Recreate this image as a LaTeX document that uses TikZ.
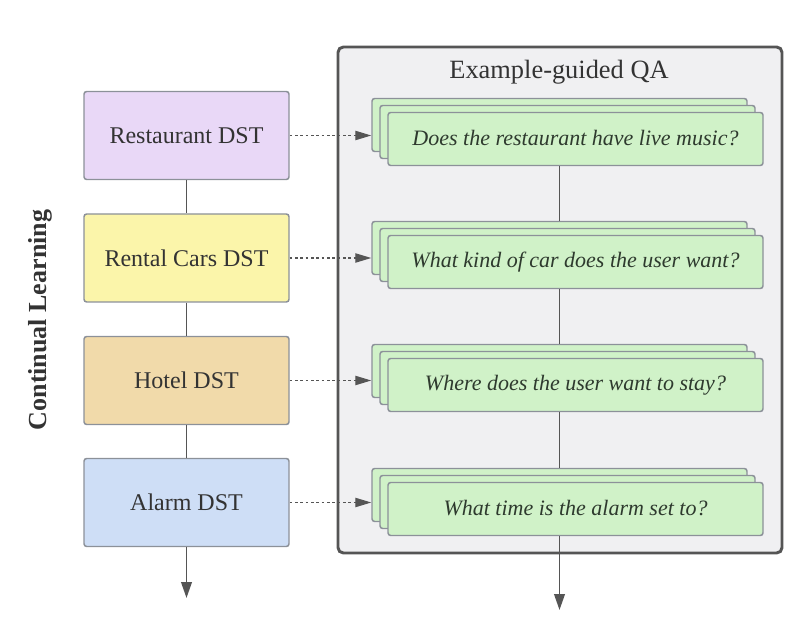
\documentclass[tikz,border=0pt]{standalone}
\usepackage{fontspec}
\setmainfont{Liberation Serif}
\usetikzlibrary{arrows.meta,positioning}
\definecolor{cpurple}{HTML}{E9D8F7}
\definecolor{cyellow}{HTML}{FBF5AA}
\definecolor{ctan}{HTML}{F1DAAA}
\definecolor{cblue}{HTML}{CEDEF6}
\definecolor{cgreen}{HTML}{D0F2C8}
\definecolor{cborder}{HTML}{8C9199}
\definecolor{couter}{HTML}{F0F0F2}
\definecolor{cline}{HTML}{555555}
\definecolor{ctext}{HTML}{333333}
\definecolor{cqtext}{HTML}{2E3A2E}
\tikzset{
  dstbox/.style={draw=cborder, line width=1.1pt, rounded corners=2pt, minimum width=153.75pt, minimum height=66pt, inner sep=0pt, text=ctext, font=\fontsize{18}{20}\selectfont},
  qbox/.style={draw=cborder, fill=cgreen, line width=1.1pt, rounded corners=2pt, minimum width=281.25pt, minimum height=39.75pt, inner sep=0pt, text=cqtext, font=\fontsize{16.5}{18}\selectfont\itshape},
  flow/.style={draw=cline, line width=1.4pt},
  flowarrow/.style={flow, -{Triangle[width=8pt,length=12pt]}},
  dasharrow/.style={draw=cline, line width=0.9pt, dash pattern=on 2pt off 2pt, -{Triangle[width=7pt,length=12pt]}},
}
\begin{document}
\begin{tikzpicture}[x=0.75pt,y=-0.75pt]
\useasboundingbox (0,0) rectangle (800,634);
% outer container
\node[draw=cline, fill=couter, line width=2.2pt, rounded corners=4pt, minimum width=333pt, minimum height=379.5pt, inner sep=0pt] (outer) at (560,300) {};
\node[text=ctext, font=\fontsize{19.8}{22}\selectfont] (title) at (559,72) {Example-guided QA};
% side label
\node[rotate=90, text=ctext, font=\fontsize{19.5}{22}\selectfont\bfseries] (cl) at (40,320) {Continual Learning};
% left DST boxes
\node[dstbox, fill=cpurple] (r1) at (186.5,135.5) {Restaurant DST};
\node[dstbox, fill=cyellow] (r2) at (186.5,258) {Rental Cars DST};
\node[dstbox, fill=ctan] (r3) at (186.5,380.5) {Hotel DST};
\node[dstbox, fill=cblue] (r4) at (186.5,502.5) {Alarm DST};
% stacked question boxes
\foreach \i/\y/\q in {1/139/{Does the restaurant have live music?},
                      2/262/{What kind of car does the user want?},
                      3/385/{Where does the user want to stay?},
                      4/509/{What time is the alarm set to?}}{
  \node[qbox] (q\i c) at (559.5,\y-14) {};
  \node[qbox] (q\i b) at (567.5,\y-7) {};
  \node[qbox] (q\i) at (575.5,\y) {\raisebox{1.5pt}{\q}};
}
% left chain
\draw[flow] (r1.south) -- (r2.north);
\draw[flow] (r2.south) -- (r3.north);
\draw[flow] (r3.south) -- (r4.north);
\coordinate (e1) at (186.5,598);
\draw[flowarrow] (r4.south) -- (e1);
% right chain
\draw[flow] (q1.south -| q2c.north) -- (q2c.north);
\draw[flow] (q2.south -| q3c.north) -- (q3c.north);
\draw[flow] (q3.south -| q4c.north) -- (q4c.north);
\coordinate (e2) at (559.5,610);
\draw[flowarrow] (q4.south -| e2) -- (e2);
% dashed links
\draw[dasharrow] (r1.east) -- (r1.east -| q1c.west);
\draw[dasharrow] (r2.east) -- (r2.east -| q2c.west);
\draw[dasharrow] (r3.east) -- (r3.east -| q3c.west);
\draw[dasharrow] (r4.east) -- (r4.east -| q4c.west);
\end{tikzpicture}
\end{document}
